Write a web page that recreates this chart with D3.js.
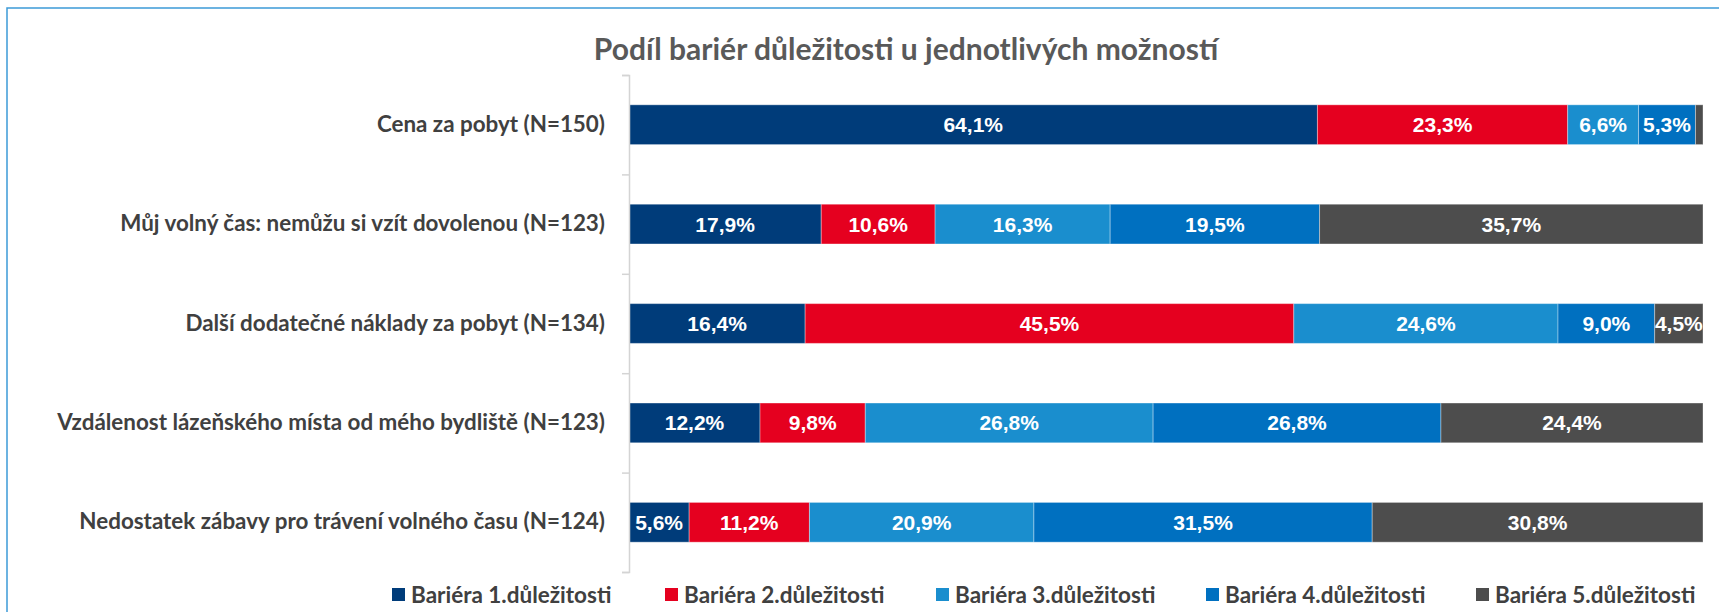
<!DOCTYPE html>
<html>
<head>
<meta charset="utf-8">
<script src="https://cdn.jsdelivr.net/npm/d3@7"></script>
<style>
    body { margin: 0; background: #fff; }
    svg { display: block; }
</style>
</head>
<body>
<svg id="mySvg" width="1719" height="612"></svg>
<script>
// values
var categories = [
    "Cena za pobyt (N=150)",
    "Můj volný čas: nemůžu si vzít dovolenou (N=123)",
    "Další dodatečné náklady za pobyt (N=134)",
    "Vzdálenost lázeňského místa od mého bydliště (N=123)",
    "Nedostatek zábavy pro trávení volného času (N=124)"
];
var seriesNames = [
    "Bariéra 1.důležitosti",
    "Bariéra 2.důležitosti",
    "Bariéra 3.důležitosti",
    "Bariéra 4.důležitosti",
    "Bariéra 5.důležitosti"
];
var bariera1 = [64.1, 17.9, 16.4, 12.2, 5.6];
var bariera2 = [23.3, 10.6, 45.5, 9.8, 11.2];
var bariera3 = [6.6, 16.3, 24.6, 26.8, 20.9];
var bariera4 = [5.3, 19.5, 9.0, 26.8, 31.5];
var bariera5 = [0.7, 35.7, 4.5, 24.4, 30.8];
var titleText = "Podíl bariér důležitosti u jednotlivých možností";

var colors = ["#003c7a", "#e5001f", "#1a8ece", "#0070c0", "#4d4d4d"];

var svgWidth = 1719;
var svgHeight = 612;
var plotLeft = 629, plotRight = 1703, plotTop = 75, plotBottom = 572;

var allSeries = [bariera1, bariera2, bariera3, bariera4, bariera5];

// rows for d3.stack
var rows = categories.map(function(c, i) {
    var row = { category: c };
    seriesNames.forEach(function(s, j) { row[s] = allSeries[j][i]; });
    return row;
});

var stacked = d3.stack().keys(seriesNames)(rows);

var xScale = d3.scaleLinear()
    .domain([0, 100])
    .range([plotLeft, plotRight]);

var yScale = d3.scaleBand()
    .domain(categories)
    .range([plotTop, plotBottom])
    .paddingInner(0.6)
    .paddingOuter(0.3);

var svg = d3.select("#mySvg");

// chart area border (cut off on the right and bottom)
svg.append("rect")
    .attr("x", 7)
    .attr("y", 8)
    .attr("width", 1800)
    .attr("height", 800)
    .attr("fill", "none")
    .attr("stroke", "#3d9ad8")
    .attr("stroke-width", 1.5);

svg.append("text")
    .attr("x", 906)
    .attr("y", 60)
    .attr("text-anchor", "middle")
    .attr("font-family", "Lato, sans-serif")
    .attr("font-weight", "bold")
    .attr("font-size", 30)
    .attr("fill", "#595959")
    .text(titleText);

var groups = svg.selectAll(".series")
    .data(stacked)
    .enter()
    .append("g")
    .attr("class", "series")
    .attr("fill", (d, i) => colors[i]);

groups.selectAll("rect")
    .data(d => d)
    .enter()
    .append("rect")
    .attr("x", d => xScale(d[0]))
    .attr("y", d => yScale(d.data.category))
    .attr("width", d => xScale(d[1]) - xScale(d[0]))
    .attr("height", yScale.bandwidth())
    .attr("stroke", "#ffffff")
    .attr("stroke-opacity", 0.35)
    .attr("stroke-width", 1);

// data labels, the tiny 0,7 % piece has none
groups.selectAll("text")
    .data(d => d)
    .enter()
    .filter(d => (d[1] - d[0]) >= 2)
    .append("text")
    .attr("x", d => (xScale(d[0]) + xScale(d[1])) / 2)
    .attr("y", d => yScale(d.data.category) + yScale.bandwidth() / 2)
    .attr("dy", "0.36em")
    .attr("text-anchor", "middle")
    .attr("font-family", "'Liberation Sans', Arial, sans-serif")
    .attr("font-weight", "bold")
    .attr("font-size", 21)
    .attr("fill", "#ffffff")
    .text(d => (d[1] - d[0]).toFixed(1).replace(".", ",") + "%");

// category axis: labels without ticks
var yAxis = d3.axisLeft(yScale)
    .tickSize(0)
    .tickPadding(24);

var gAxis = svg.append("g")
    .attr("transform", "translate(" + plotLeft + ",0)")
    .call(yAxis);
gAxis.select(".domain").remove();
gAxis.selectAll("text")
    .attr("font-family", "Lato, sans-serif")
    .attr("font-weight", "bold")
    .attr("font-size", 22.4)
    .attr("fill", "#404040");

// axis line with tick marks between categories
var boundScale = d3.scaleLinear()
    .domain([0, categories.length])
    .range([plotTop, plotBottom]);

var gTicks = svg.append("g")
    .attr("transform", "translate(" + plotLeft + ",0)")
    .call(d3.axisLeft(boundScale)
        .ticks(categories.length)
        .tickFormat("")
        .tickSizeInner(7)
        .tickSizeOuter(7));
gTicks.selectAll("line, path")
    .attr("stroke", "#d4d4d4")
    .attr("stroke-width", 1.5);

// legend
var legendX = [392, 665, 936, 1206, 1476];
var legend = svg.selectAll(".legendItem")
    .data(seriesNames)
    .enter()
    .append("g")
    .attr("class", "legendItem")
    .attr("transform", (d, i) => "translate(" + legendX[i] + ",595)");

legend.append("rect")
    .attr("x", 0)
    .attr("y", -7)
    .attr("width", 13)
    .attr("height", 13)
    .attr("fill", (d, i) => colors[i]);

legend.append("text")
    .attr("x", 19)
    .attr("y", 0)
    .attr("dy", "0.35em")
    .attr("font-family", "Lato, sans-serif")
    .attr("font-weight", "bold")
    .attr("font-size", 22.5)
    .attr("fill", "#404040")
    .text(d => d);
</script>
</body>
</html>
